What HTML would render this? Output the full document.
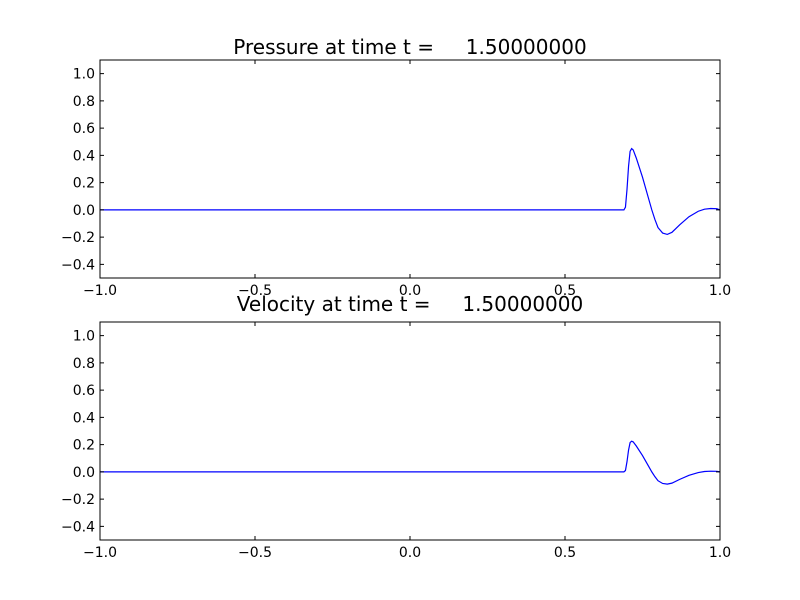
<!DOCTYPE html>
<html><head><meta charset="utf-8"><style>
body{margin:0;background:#fff}
svg{display:block}
text{font-family:"DejaVu Sans","Liberation Sans",sans-serif;fill:#000}
</style></head><body>
<svg id="s" width="800" height="600" xmlns="http://www.w3.org/2000/svg">
<rect width="800" height="600" fill="#fff"/>
</svg>
<script>
const s=document.getElementById('s');const NS='http://www.w3.org/2000/svg';
function el(t,a,txt){const e=document.createElementNS(NS,t);for(const k in a)e.setAttribute(k,a[k]);if(txt!==undefined)e.textContent=txt;s.appendChild(e);return e;}
const pts=[[-1,0],[0.69,0],[0.695,0.02],[0.70,0.15],[0.705,0.32],[0.71,0.43],[0.715,0.45],[0.72,0.44],[0.73,0.38],[0.75,0.24],[0.77,0.08],[0.78,0.0],[0.79,-0.07],[0.80,-0.13],[0.815,-0.17],[0.83,-0.18],[0.845,-0.165],[0.87,-0.11],[0.90,-0.05],[0.93,-0.01],[0.95,0.005],[0.97,0.01],[0.99,0.008],[1.0,0.0]];
function panel(top,title,scale,ty){
 const L=100,R=720,B=top+218,H=218;
 const X=x=>L+(x+1)/2*(R-L), Y=y=>B-(y+0.5)/1.6*H;
 let d=pts.map((p,i)=>(i?'L':'M')+X(p[0]).toFixed(2)+' '+Y(p[1]*scale).toFixed(2)).join(' ');
 el('path',{d,fill:'none',stroke:'#0000ff','stroke-width':1.2});
 el('rect',{x:L,y:top,width:R-L,height:H,fill:'none',stroke:'#000','stroke-width':1});
 for(let i=0;i<=4;i++){const x=-1+i*0.5,px=X(x);
  el('line',{x1:px,y1:B,x2:px,y2:B-4,stroke:'#000'});el('line',{x1:px,y1:top,x2:px,y2:top+4,stroke:'#000'});
  el('text',{x:px,y:B+17,'text-anchor':'middle','font-size':14},x.toFixed(1).replace('-','\u2212'));}
 for(let i=0;i<=7;i++){const y=-0.4+i*0.2,py=Y(y);
  el('line',{x1:L,y1:py,x2:L+4,y2:py,stroke:'#000'});el('line',{x1:R,y1:py,x2:R-4,y2:py,stroke:'#000'});
  el('text',{x:L-5,y:py+5,'text-anchor':'end','font-size':14},(Math.abs(y)<1e-9?0:y).toFixed(1).replace('-','\u2212'));}
 el('text',{x:410,y:ty,'text-anchor':'middle','font-size':20},title);
}
panel(60,'Pressure at time t =\u00a0\u00a0\u00a0\u00a0 1.50000000',1,54);
panel(322,'Velocity at time t =\u00a0\u00a0\u00a0\u00a0 1.50000000',0.5,311);
</script>
</body></html>
